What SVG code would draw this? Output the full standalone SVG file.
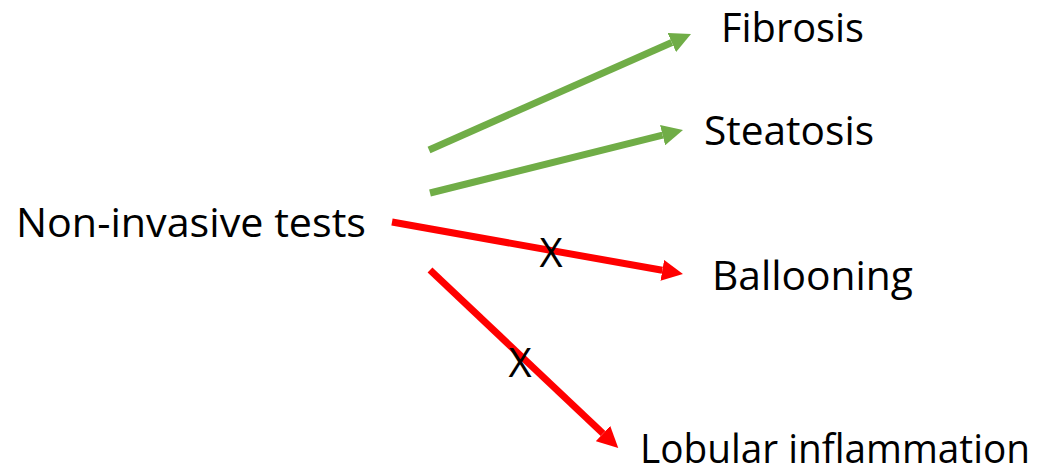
<svg xmlns="http://www.w3.org/2000/svg" width="1061" height="469" viewBox="0 0 1061 469">
  <style>
    .label { font-family: "Open Sans", "Noto Sans", "Liberation Sans", sans-serif; font-size: 40px; fill: #000000; }
    .cross { font-family: "Open Sans", "Noto Sans", "Liberation Sans", sans-serif; font-size: 40px; fill: #000000; text-anchor: middle; }
    .yes { stroke: #70AD47; stroke-width: 7; fill: none; }
    .no { stroke: #FF0000; stroke-width: 7; fill: none; }
  </style>
  <defs>
    <marker id="headGreen" markerWidth="3" markerHeight="3" refX="0" refY="1.5" orient="auto" markerUnits="strokeWidth">
      <path d="M0,0 L3,1.5 L0,3 z" fill="#70AD47"/>
    </marker>
    <marker id="headRed" markerWidth="3" markerHeight="3" refX="0" refY="1.5" orient="auto" markerUnits="strokeWidth">
      <path d="M0,0 L3,1.5 L0,3 z" fill="#FF0000"/>
    </marker>
  </defs>

  <rect width="1061" height="469" fill="#FFFFFF"/>

  <g id="connectors">
    <line class="yes" x1="429" y1="150" x2="671.8" y2="42.5" marker-end="url(#headGreen)"/>
    <line class="yes" x1="430" y1="193" x2="662.6" y2="135.1" marker-end="url(#headGreen)"/>
    <line class="no" x1="392" y1="222" x2="662.3" y2="270.3" marker-end="url(#headRed)"/>
    <line class="no" x1="430" y1="270" x2="603" y2="433.5" marker-end="url(#headRed)"/>
    <text class="cross" x="551" y="267">X</text>
    <text class="cross" x="520" y="377">X</text>
  </g>

  <g id="node-tests">
    <text class="label" x="16" y="237" textLength="350" lengthAdjust="spacingAndGlyphs">Non-invasive tests</text>
  </g>
  <g id="node-fibrosis">
    <text class="label" x="721" y="42" textLength="143" lengthAdjust="spacingAndGlyphs">Fibrosis</text>
  </g>
  <g id="node-steatosis">
    <text class="label" x="704" y="145" textLength="170" lengthAdjust="spacingAndGlyphs">Steatosis</text>
  </g>
  <g id="node-ballooning">
    <text class="label" x="712" y="290" textLength="201" lengthAdjust="spacingAndGlyphs">Ballooning</text>
  </g>
  <g id="node-lobular">
    <text class="label" x="640" y="463" textLength="390" lengthAdjust="spacingAndGlyphs">Lobular inflammation</text>
  </g>
</svg>
